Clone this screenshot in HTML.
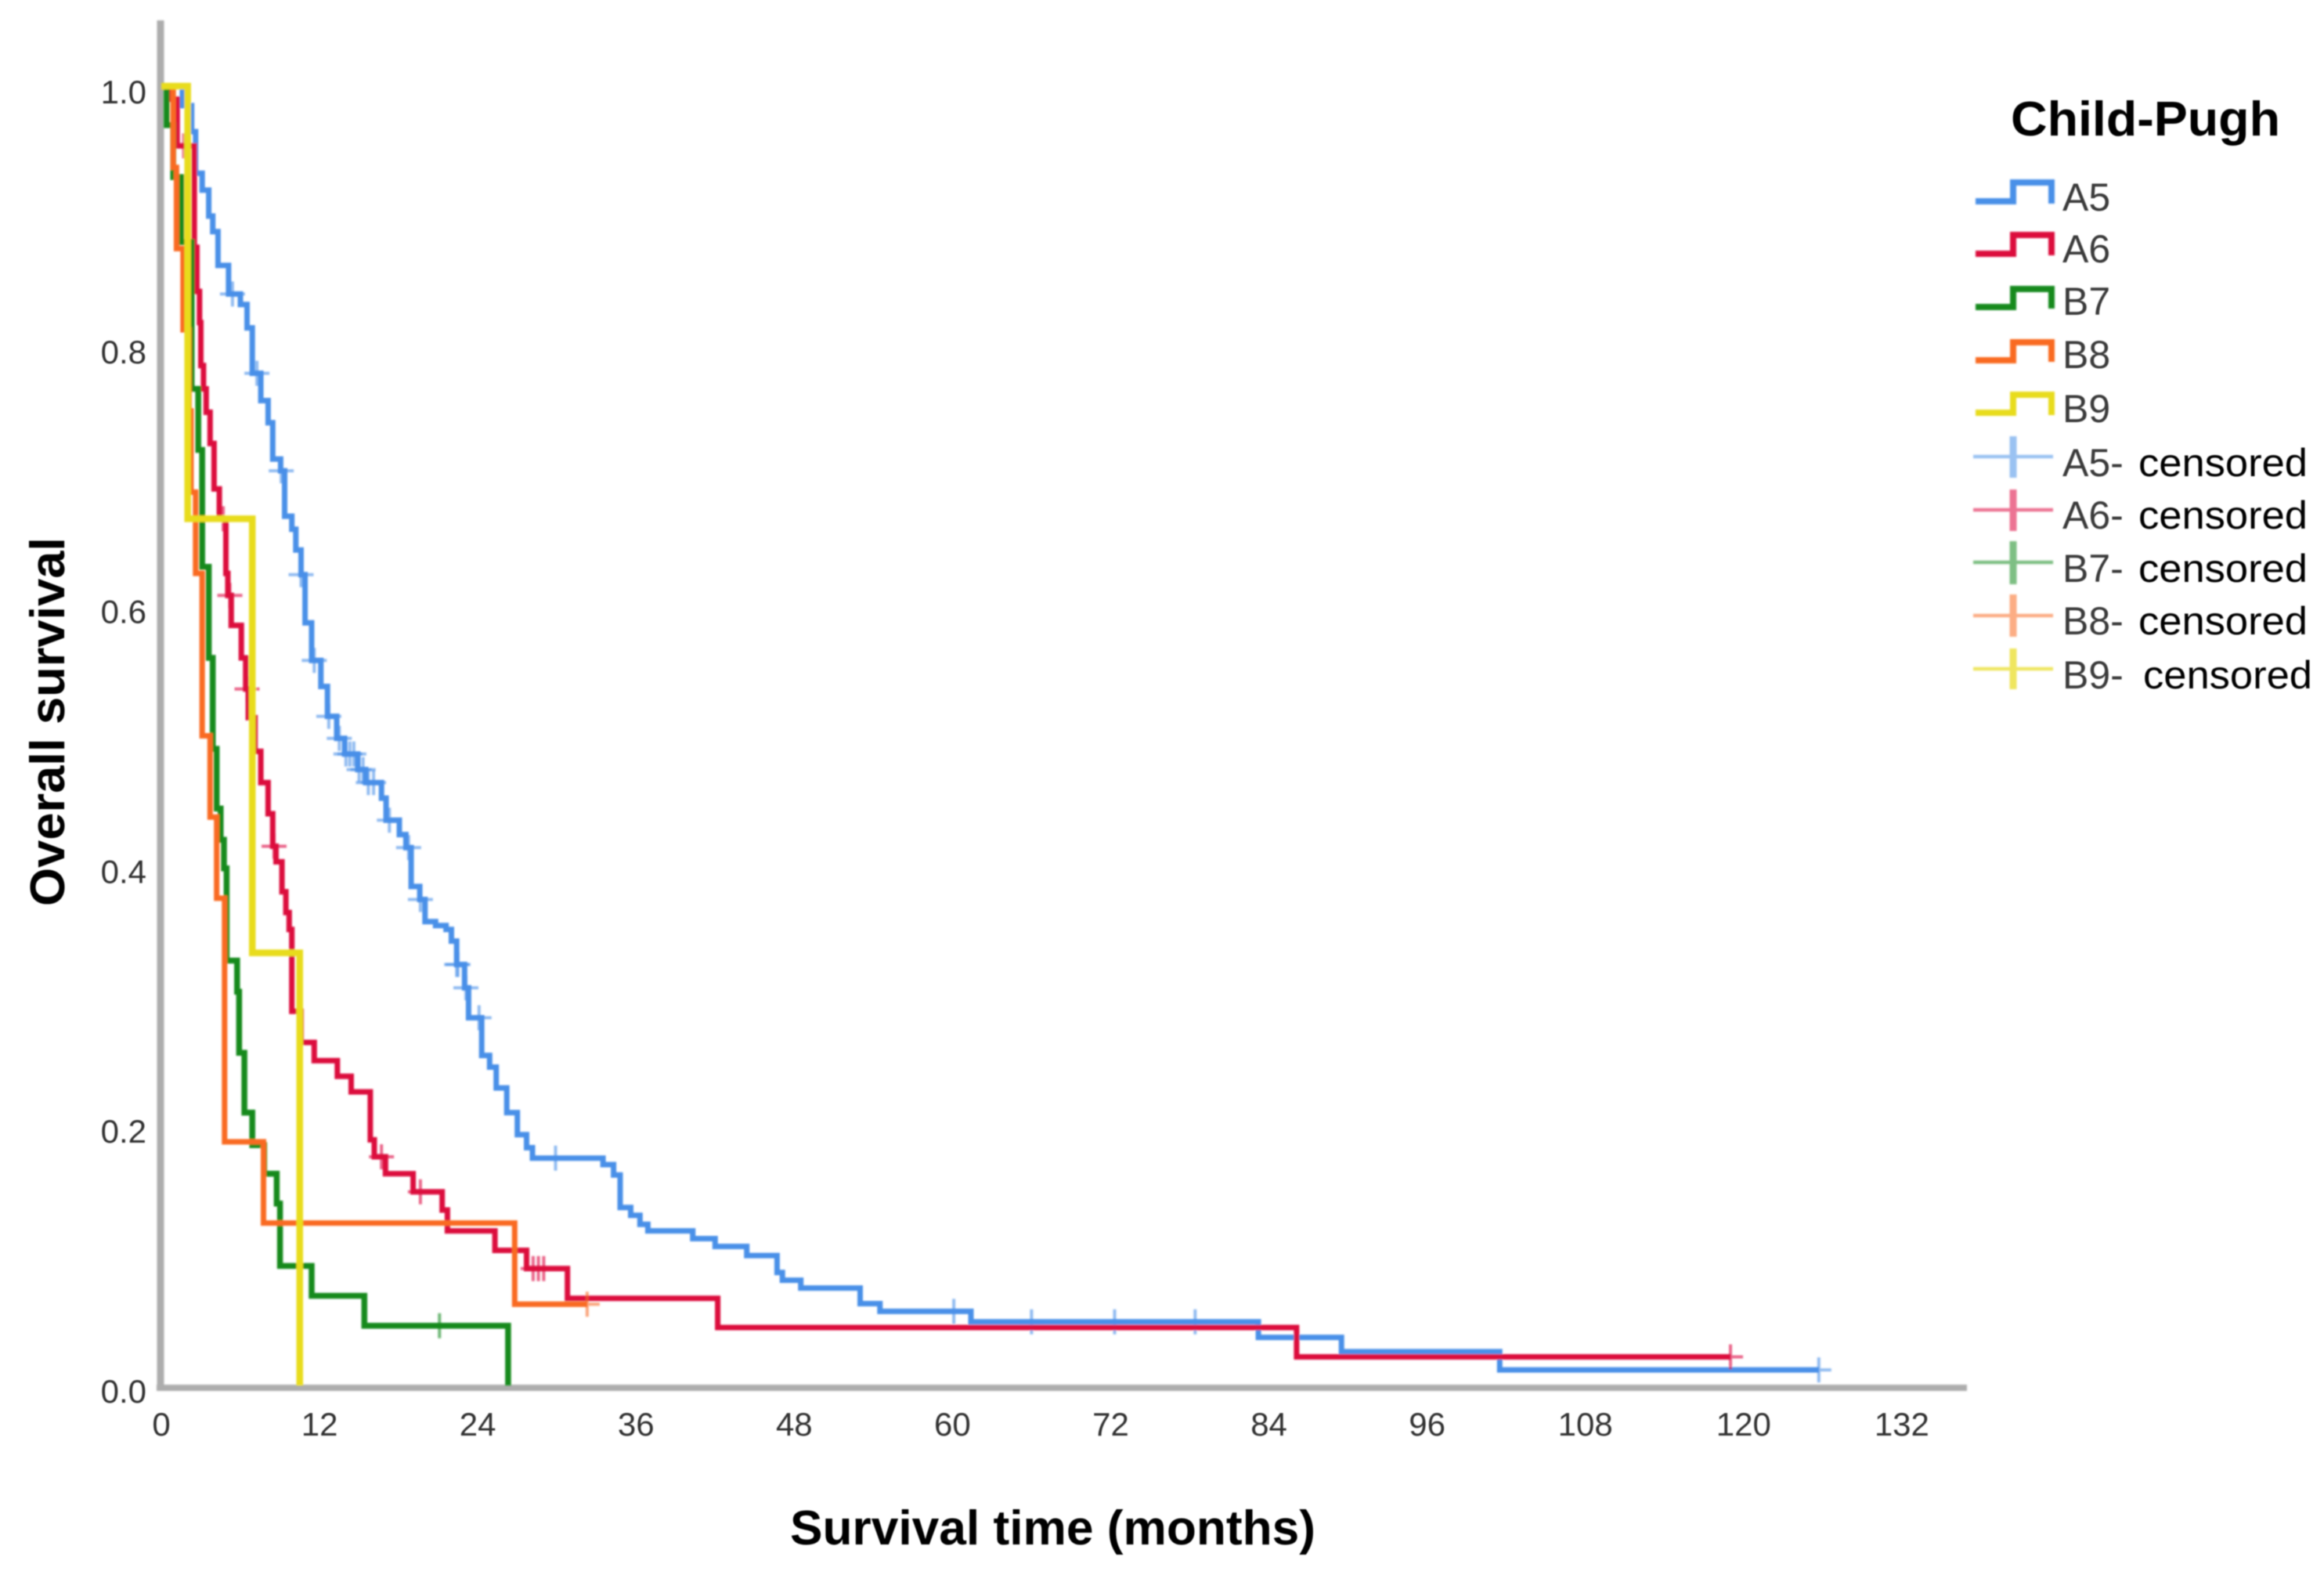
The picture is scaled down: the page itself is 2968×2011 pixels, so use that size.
<!DOCTYPE html>
<html lang="en">
<head>
<meta charset="utf-8">
<title>Overall survival by Child-Pugh class</title>
<style>
html,body{margin:0;padding:0;background:#fff;}
svg{display:block;}
text{font-family:"Liberation Sans",sans-serif;}
</style>
</head>
<body>
<svg id="chart" xmlns="http://www.w3.org/2000/svg" width="2968" height="2011" viewBox="0 0 2968 2011">
  <defs>
    <filter id="soft" x="-5%" y="-5%" width="110%" height="110%"><feGaussianBlur stdDeviation="1.1"/></filter>
    <filter id="softText" x="-5%" y="-5%" width="110%" height="110%"><feGaussianBlur stdDeviation="0.9"/></filter>
  </defs>
  <rect x="0" y="0" width="2968" height="2011" fill="#ffffff"/>
  <g id="axes" filter="url(#soft)">
    <line x1="205" y1="26" x2="205" y2="1776" stroke="#adadad" stroke-width="9"/>
    <line x1="200" y1="1772" x2="2512" y2="1772" stroke="#adadad" stroke-width="8"/>
  </g>
  <g id="curves" filter="url(#soft)"></g>
  <g id="ticks" filter="url(#softText)"></g>
  <g filter="url(#softText)">
    <text transform="translate(82,1157) rotate(-90)" font-size="62" font-weight="bold" fill="#000" textLength="471" lengthAdjust="spacingAndGlyphs">Overall survival</text>
    <text x="1009" y="1972" font-size="62" font-weight="bold" fill="#000" textLength="671" lengthAdjust="spacingAndGlyphs">Survival time (months)</text>
  </g>
  <g id="legend">
    <g filter="url(#softText)">
      <text x="2568" y="173" font-size="62" font-weight="bold" fill="#000" textLength="344" lengthAdjust="spacingAndGlyphs">Child-Pugh</text>
      <text x="2634" y="269" font-size="50" fill="#3a3a3a">A5</text>
      <text x="2634" y="335" font-size="50" fill="#3a3a3a">A6</text>
      <text x="2634" y="402" font-size="50" fill="#3a3a3a">B7</text>
      <text x="2634" y="470" font-size="50" fill="#3a3a3a">B8</text>
      <text x="2634" y="539" font-size="50" fill="#3a3a3a">B9</text>
      <text x="2634" y="608" font-size="50" fill="#3a3a3a">A5-</text>
      <text x="2634" y="675" font-size="50" fill="#3a3a3a">A6-</text>
      <text x="2634" y="743" font-size="50" fill="#3a3a3a">B7-</text>
      <text x="2634" y="810" font-size="50" fill="#3a3a3a">B8-</text>
      <text x="2634" y="879" font-size="50" fill="#3a3a3a">B9-</text>
      <text x="2731" y="608" font-size="50" fill="#000" textLength="216" lengthAdjust="spacingAndGlyphs">censored</text>
      <text x="2731" y="675" font-size="50" fill="#000" textLength="216" lengthAdjust="spacingAndGlyphs">censored</text>
      <text x="2731" y="743" font-size="50" fill="#000" textLength="216" lengthAdjust="spacingAndGlyphs">censored</text>
      <text x="2731" y="810" font-size="50" fill="#000" textLength="216" lengthAdjust="spacingAndGlyphs">censored</text>
      <text x="2737" y="879" font-size="50" fill="#000" textLength="216" lengthAdjust="spacingAndGlyphs">censored</text>
    </g>
    <g filter="url(#soft)" fill="none" stroke-linejoin="miter">
      <path d="M2523 257H2571V233H2620V260" stroke="#4a90e8" stroke-width="8"/>
      <path d="M2523 324H2571V300H2620V326" stroke="#dc0a3c" stroke-width="8"/>
      <path d="M2523 392H2571V369H2620V394" stroke="#178a1e" stroke-width="8"/>
      <path d="M2523 460H2571V437H2620V462" stroke="#f96a24" stroke-width="8"/>
      <path d="M2523 527H2571V504H2620V530" stroke="#e8dc1a" stroke-width="8"/>
      <g stroke="#4a90e8" opacity="0.55"><path d="M2520 583H2622" stroke-width="4.5"/><path d="M2571 557V610" stroke-width="9"/></g>
      <g stroke="#dc0a3c" opacity="0.55"><path d="M2520 651H2622" stroke-width="4.5"/><path d="M2571 625V678" stroke-width="9"/></g>
      <g stroke="#178a1e" opacity="0.55"><path d="M2520 718H2622" stroke-width="4.5"/><path d="M2571 691V746" stroke-width="9"/></g>
      <g stroke="#f96a24" opacity="0.55"><path d="M2520 786H2622" stroke-width="4.5"/><path d="M2571 759V813" stroke-width="9"/></g>
      <g stroke="#e8dc1a" opacity="0.7"><path d="M2520 854H2622" stroke-width="4.5"/><path d="M2571 828V880" stroke-width="9"/></g>
    </g>
  </g>
</svg>
<script>
const xTickLabels = [0, 12, 24, 36, 48, 60, 72, 84, 96, 108, 120, 132];
const yTickLabels = ["0.0", "0.2", "0.4", "0.6", "0.8", "1.0"];
const yTickValues = [0, 0.2, 0.4, 0.6, 0.8, 1];

const a5Times = [1.6, 2.3, 2.6, 3.1, 3.6, 3.9, 4.3, 5.1, 6, 6.5, 6.9, 7.55, 8.1, 8.45, 9.05, 9.35, 9.9, 10.2, 10.6, 10.9, 11.4, 12.1, 12.6, 13.3, 13.9, 14.9, 15.5, 16.7, 17.05, 18.05, 18.55, 18.95, 19.6, 20, 20.8, 21.6, 22, 22.4, 23, 23.3, 24.3, 24.9, 25.4, 26.2, 27, 27.7, 28.15, 33.5, 34.3, 34.8, 35.6, 36.3, 36.9, 40.3, 42, 44.4, 46.7, 47.1, 48.5, 53, 54.5, 61.4, 83.2, 89.5, 101.5];
const a5Survival = [0.985, 0.965, 0.933, 0.92, 0.9, 0.888, 0.862, 0.84, 0.832, 0.814, 0.779, 0.758, 0.741, 0.713, 0.704, 0.669, 0.659, 0.643, 0.624, 0.587, 0.558, 0.538, 0.515, 0.498, 0.486, 0.474, 0.464, 0.452, 0.435, 0.424, 0.414, 0.384, 0.374, 0.357, 0.354, 0.351, 0.342, 0.324, 0.306, 0.283, 0.254, 0.245, 0.229, 0.21, 0.193, 0.183, 0.175, 0.17, 0.162, 0.137, 0.131, 0.124, 0.119, 0.113, 0.107, 0.1, 0.087, 0.081, 0.075, 0.063, 0.057, 0.049, 0.037, 0.026, 0.012];
const a5Censored = [5.4, 7.25, 9.1, 10.6, 11.6, 12.7, 13.5, 14, 14.3, 14.6, 15, 15.3, 15.7, 16.1, 17.3, 18.75, 19.65, 22.4, 22.5, 23.1, 24.1, 29.9, 60.1, 66, 72.3, 78.4, 125.7];

const a6Times = [0.6, 1.2, 2.5, 2.7, 2.9, 3, 3.2, 3.4, 3.7, 4, 4.4, 4.9, 5.05, 5.3, 6.07, 6.4, 6.6, 7.1, 7.55, 8.1, 8.45, 8.7, 9.15, 9.45, 9.7, 9.9, 10.6, 11.6, 13.35, 14.4, 15.85, 16.15, 17, 19.1, 21.3, 21.7, 25.3, 27.7, 30.8, 42.2, 86.1];
const a6Survival = [0.99, 0.954, 0.876, 0.842, 0.818, 0.785, 0.767, 0.749, 0.725, 0.69, 0.667, 0.625, 0.608, 0.585, 0.56, 0.536, 0.514, 0.488, 0.464, 0.44, 0.415, 0.403, 0.38, 0.364, 0.351, 0.288, 0.264, 0.25, 0.238, 0.226, 0.189, 0.176, 0.163, 0.149, 0.135, 0.119, 0.104, 0.09, 0.067, 0.0446, 0.022];
const a6Censored = [1.7, 4.7, 5.2, 6.5, 8.55, 16.7, 19.65, 28.2, 28.6, 29, 119];

const b7Times = [0.4, 0.9, 1.5, 2.3, 2.8, 3.1, 3.6, 3.9, 4.2, 4.5, 4.75, 4.95, 5.75, 5.9, 6.3, 6.9, 7.8, 8.75, 9, 11.4, 15.4, 26.3];
const b7Survival = [0.97, 0.93, 0.88, 0.767, 0.72, 0.63, 0.56, 0.49, 0.444, 0.42, 0.398, 0.327, 0.303, 0.256, 0.21, 0.185, 0.163, 0.14, 0.092, 0.069, 0.046, 0];
const b7Censored = [21.1];

const b8Times = [0.9, 1.15, 1.65, 2.1, 2.25, 2.6, 3.1, 3.7, 4.2, 4.8, 7.75, 26.8];
const b8Survival = [0.9375, 0.875, 0.8125, 0.75, 0.6875, 0.625, 0.5, 0.4375, 0.375, 0.1875, 0.125, 0.0625];
const b8Censored = [32.3];

const b9Times = [2, 6.9, 10.5];
const b9Survival = [0.667, 0.333, 0];
const b9Censored = [];

const seriesNames = ["a5", "a6", "b7", "b8", "b9"];
const seriesColors = ["#4a90e8", "#dc0a3c", "#178a1e", "#f96a24", "#e8dc1a"];
const seriesWidths = [7, 7, 7.5, 7, 8.5];
const allTimes = [a5Times, a6Times, b7Times, b8Times, b9Times];
const allSurvival = [a5Survival, a6Survival, b7Survival, b8Survival, b9Survival];
const allCensored = [a5Censored, a6Censored, b7Censored, b8Censored, b9Censored];

const SVG_NS = "http://www.w3.org/2000/svg";
function xScale(t) { return 206 + 16.84 * t; }
function yScale(s) { return 1769 - 1659 * s; }
function survivalAt(times, survival, t) {
  let s = 1;
  for (let i = 0; i < times.length; i++) {
    if (t >= times[i]) s = survival[i];
  }
  return s;
}

const curvesGroup = document.getElementById("curves");
seriesNames.forEach(function (name, k) {
  const times = allTimes[k];
  const survival = allSurvival[k];
  const censored = allCensored[k];
  let d = "M" + xScale(0) + " " + yScale(1);
  times.forEach(function (t, i) {
    d += "H" + xScale(t).toFixed(1) + "V" + yScale(survival[i]).toFixed(1);
  });
  if (censored.length && censored[censored.length - 1] > times[times.length - 1]) {
    d += "H" + xScale(censored[censored.length - 1]).toFixed(1);
  }
  const path = document.createElementNS(SVG_NS, "path");
  
  
  path.setAttribute("d", d);
  path.setAttribute("fill", "none");
  path.setAttribute("stroke", seriesColors[k]);
  path.setAttribute("stroke-width", seriesWidths[k]);
  path.setAttribute("stroke-linejoin", "miter");
  curvesGroup.appendChild(path);
  censored.forEach(function (t) {
    const cx = xScale(t);
    const cy = yScale(survivalAt(times, survival, t));
    const mark = document.createElementNS(SVG_NS, "path");
    
    
    mark.setAttribute("d", "M" + (cx - 16).toFixed(1) + " " + cy.toFixed(1) + "h32M" + cx.toFixed(1) + " " + (cy - 16).toFixed(1) + "v32");
    mark.setAttribute("fill", "none");
    mark.setAttribute("stroke", seriesColors[k]);
    mark.setAttribute("stroke-width", "4");
    mark.setAttribute("opacity", "0.6");
    curvesGroup.appendChild(mark);
  });
});

const ticksGroup = document.getElementById("ticks");
xTickLabels.forEach(function (v) {
  const label = document.createElementNS(SVG_NS, "text");
  
  
  label.setAttribute("x", xScale(v));
  label.setAttribute("y", 1833);
  label.setAttribute("text-anchor", "middle");
  label.setAttribute("font-size", "42");
  label.setAttribute("fill", "#333");
  label.textContent = v;
  ticksGroup.appendChild(label);
});
yTickLabels.forEach(function (txt, i) {
  const label = document.createElementNS(SVG_NS, "text");
  
  
  label.setAttribute("x", 187);
  label.setAttribute("y", yScale(yTickValues[i]) + 22);
  label.setAttribute("text-anchor", "end");
  label.setAttribute("font-size", "42");
  label.setAttribute("fill", "#333");
  label.textContent = txt;
  ticksGroup.appendChild(label);
});
</script>
</body>
</html>
